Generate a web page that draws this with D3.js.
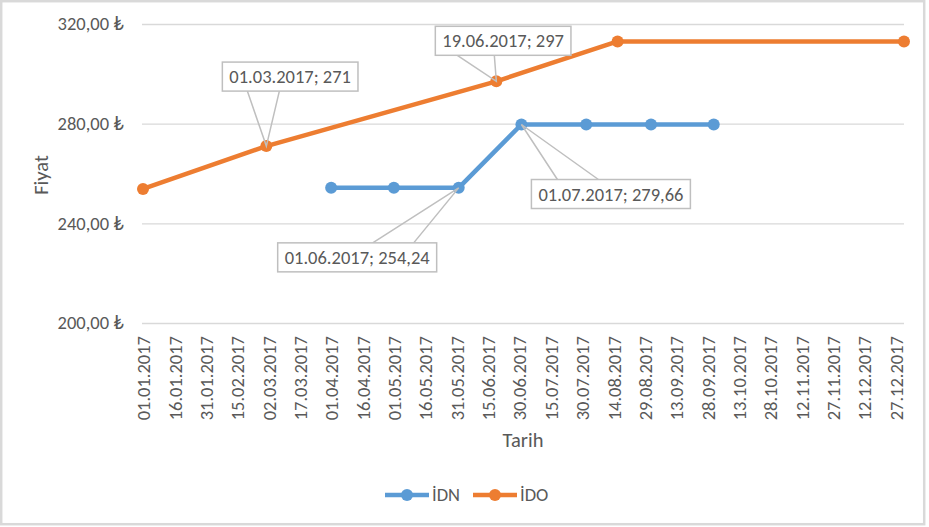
<!DOCTYPE html>
<html>
<head>
<meta charset="utf-8">
<script src="https://cdn.jsdelivr.net/npm/d3@7"></script>
<style>
  body { margin: 0; background: #fff; }
  svg text { font-family: Calibri, Carlito, Lato, "Noto Sans", sans-serif; fill: #595959; }
</style>
</head>
<body>
<svg id="chart" width="929" height="527"></svg>
<script>
// values
var idnDates = ["01.04.2017", "01.05.2017", "01.06.2017", "01.07.2017", "01.08.2017", "01.09.2017", "01.10.2017"];
var idnValues = [254.24, 254.24, 254.24, 279.66, 279.66, 279.66, 279.66];

var idoDates = ["01.01.2017", "01.03.2017", "19.06.2017", "16.08.2017", "31.12.2017"];
var idoValues = [253.8, 271, 297, 313, 313];

var xTickLabels = ["01.01.2017", "16.01.2017", "31.01.2017", "15.02.2017", "02.03.2017", "17.03.2017",
    "01.04.2017", "16.04.2017", "01.05.2017", "16.05.2017", "31.05.2017", "15.06.2017", "30.06.2017",
    "15.07.2017", "30.07.2017", "14.08.2017", "29.08.2017", "13.09.2017", "28.09.2017", "13.10.2017",
    "28.10.2017", "12.11.2017", "27.11.2017", "12.12.2017", "27.12.2017"];
var yTicks = [200, 240, 280, 320];

// data callouts: series, date, text
var calloutSeries = ["İDO", "İDO", "İDN", "İDN"];
var calloutDates = ["01.03.2017", "19.06.2017", "01.06.2017", "01.07.2017"];
var calloutTexts = ["01.03.2017; 271", "19.06.2017; 297", "01.06.2017; 254,24", "01.07.2017; 279,66"];

function drawChart() {
    var parseDate = d3.timeParse("%d.%m.%Y");
    var fmtDate = d3.timeFormat("%d.%m.%Y");
    var tl = d3.formatLocale({decimal: ",", thousands: ".", grouping: [3], currency: ["", " ₺"]});
    var fmtTL = tl.format("$,.2f");
    var fs = 18.5;

    var svg = d3.select("svg");

    // chart frame
    svg.append("rect")
        .attr("x", 1.2).attr("y", 1.2)
        .attr("width", 923).attr("height", 523)
        .attr("fill", "#fff")
        .attr("stroke", "#d9d9d9")
        .attr("stroke-width", 2.5);

    var pLeft = 142, pRight = 904, pTop = 24, pBottom = 323;

    var x = d3.scaleTime()
        .domain([parseDate("01.01.2017"), parseDate("31.12.2017")])
        .range([pLeft + 1, pRight]);

    var y = d3.scaleLinear()
        .domain([200, 320])
        .range([pBottom, pTop]);

    // y axis + gridlines
    var yAxis = svg.append("g")
        .attr("transform", "translate(" + pLeft + ",0)")
        .call(d3.axisLeft(y)
            .tickValues(yTicks)
            .tickFormat(fmtTL)
            .tickSizeInner(-(pRight - pLeft))
            .tickSizeOuter(0)
            .tickPadding(18));
    yAxis.select(".domain").remove();
    yAxis.selectAll(".tick line").attr("stroke", "#d9d9d9").attr("stroke-width", 1.3);
    yAxis.selectAll(".tick text")
        .attr("font-size", fs)
        .attr("font-family", null)
        .style("fill", "#595959");

    // x axis
    var xAxis = svg.append("g")
        .attr("transform", "translate(0," + pBottom + ")")
        .call(d3.axisBottom(x)
            .tickValues(xTickLabels.map(parseDate))
            .tickFormat(fmtDate)
            .tickSize(0));
    xAxis.select(".domain").remove();
    xAxis.selectAll(".tick text")
        .attr("font-size", fs)
        .attr("font-family", null)
        .style("fill", "#595959")
        .attr("text-anchor", "end")
        .attr("transform", "rotate(-90)")
        .attr("x", -13)
        .attr("y", 0)
        .attr("dy", "0.36em");

    // axis titles
    svg.append("text")
        .attr("transform", "translate(48,175) rotate(-90)")
        .attr("text-anchor", "middle")
        .attr("font-size", 20.5)
        .text("Fiyat");
    svg.append("text")
        .attr("x", 523).attr("y", 447)
        .attr("text-anchor", "middle")
        .attr("font-size", 20.5)
        .text("Tarih");

    var series = [
        {name: "İDN", color: "#5b9bd5", pts: idnDates.map(function(d, i) { return {date: parseDate(d), value: idnValues[i]}; })},
        {name: "İDO", color: "#ed7d31", pts: idoDates.map(function(d, i) { return {date: parseDate(d), value: idoValues[i]}; })}
    ];

    var line = d3.line()
        .x(function(d) { return x(d.date); })
        .y(function(d) { return y(d.value); });

    series.forEach(function(s, si) {
        svg.append("path")
            .datum(s.pts)
            .attr("fill", "none")
            .attr("stroke", s.color)
            .attr("stroke-width", 4.5)
            .attr("stroke-linejoin", "round")
            .attr("d", line);
        svg.selectAll(".pt" + si)
            .data(s.pts)
            .enter()
            .append("circle")
            .attr("class", "pt" + si)
            .attr("cx", function(d) { return x(d.date); })
            .attr("cy", function(d) { return y(d.value); })
            .attr("r", 6)
            .attr("fill", s.color);
    });

    // callout boxes: offset of box top-left from the point, leader feet inside box
    var calloutLayout = [
        {dx: -44, dy: -84, side: "bottom", feet: [25, 57]},
        {dx: -61, dy: -55, side: "bottom", feet: [22, 59]},
        {dx: -181, dy: 55, side: "top", feet: [95, 136]},
        {dx: 10, dy: 55, side: "top", feet: [26, 67]}
    ];

    calloutTexts.forEach(function(t, i) {
        var s = series.find(function(d) { return d.name === calloutSeries[i]; });
        var dt = parseDate(calloutDates[i]);
        var p = s.pts.find(function(d) { return +d.date === +dt; });
        var px = x(p.date), py = y(p.value);
        var L = calloutLayout[i];
        var bx = px + L.dx, by = py + L.dy, bh = 29;

        var g = svg.append("g").attr("class", "callout");
        var txt = g.append("text")
            .attr("x", bx + 7)
            .attr("y", by + 21)
            .attr("font-size", fs)
            .text(t);
        var bw = txt.node().getComputedTextLength() + 14;
        var fy = L.side === "bottom" ? by + bh : by;

        g.insert("path", "text")
            .attr("d", "M" + (bx + L.feet[0]) + "," + fy + "L" + px + "," + py + "L" + (bx + L.feet[1]) + "," + fy)
            .attr("fill", "none")
            .attr("stroke", "#bfbfbf")
            .attr("stroke-width", 1.5);
        g.insert("rect", "text")
            .attr("x", bx).attr("y", by)
            .attr("width", bw).attr("height", bh)
            .attr("fill", "#fff")
            .attr("stroke", "#bfbfbf")
            .attr("stroke-width", 1.5);
    });

    // legend
    var legendX = [385, 473];
    series.forEach(function(s, i) {
        var lg = svg.append("g").attr("transform", "translate(" + legendX[i] + ",495)");
        lg.append("line")
            .attr("x1", 0).attr("x2", 44)
            .attr("stroke", s.color)
            .attr("stroke-width", 4.5);
        lg.append("circle").attr("cx", 22).attr("r", 6).attr("fill", s.color);
        lg.append("text")
            .attr("x", 47).attr("y", 6)
            .attr("font-size", fs)
            .text(s.name);
    });
}

drawChart();
</script>
</body>
</html>
